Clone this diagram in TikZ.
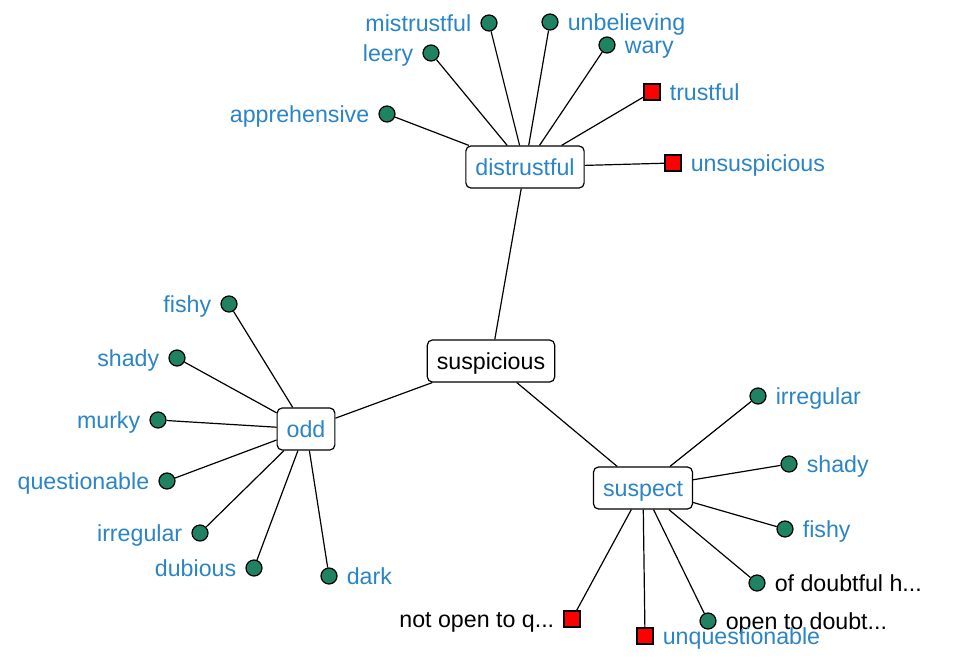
\documentclass[tikz,border=0pt]{standalone}
\usepackage{fontspec}
\setmainfont{Liberation Sans}
\definecolor{lblue}{HTML}{2A84C6}
\definecolor{lgreen}{HTML}{1F8262}
\begin{document}
\begin{tikzpicture}[x=1pt,y=-1pt,
 every node/.style={font=\fontsize{23.2}{27}\selectfont},
 hub/.style={draw, rounded corners=5pt, line width=1.2pt, fill=white, inner xsep=9.5pt, inner ysep=0pt, minimum height=42pt, text height=16pt, text depth=0pt},
 leaf/.style={circle, draw, fill=lgreen, line width=1.2pt, minimum size=16pt, inner sep=0pt},
 neg/.style={rectangle, draw, fill=red, line width=1.2pt, minimum size=16pt, inner sep=0pt},
 lt/.style={inner sep=0pt, text height=16pt, text depth=0pt, text=#1, label distance=9pt},
 conn/.style={line width=1.2pt}
]
\useasboundingbox (0,0) rectangle (954,665);

% hubs
\node[hub] (susp) at (491,361) {suspicious};
\node[hub, text=lblue] (dist) at (525,167) {distrustful};
\node[hub, text=lblue] (odd) at (306,429) {odd};
\node[hub, text=lblue] (spct) at (643,488) {suspect};

% distrustful leaves
\node[leaf, label={[lt=lblue]left:mistrustful}] (d1) at (489,23) {};
\node[leaf, label={[lt=lblue]right:unbelieving}] (d2) at (550,22) {};
\node[leaf, label={[lt=lblue]left:leery}] (d3) at (431,53) {};
\node[leaf, label={[lt=lblue]right:wary}] (d4) at (607,45) {};
\node[leaf, label={[lt=lblue]left:apprehensive}] (d5) at (387,114) {};
\node[neg, label={[lt=lblue]right:trustful}] (d6) at (652,92) {};
\node[neg, label={[lt=lblue]right:unsuspicious}] (d7) at (673,163) {};

% odd leaves
\node[leaf, label={[lt=lblue]left:fishy}] (o1) at (229,304) {};
\node[leaf, label={[lt=lblue]left:shady}] (o2) at (177,358) {};
\node[leaf, label={[lt=lblue]left:murky}] (o3) at (158,420) {};
\node[leaf, label={[lt=lblue]left:questionable}] (o4) at (167,481) {};
\node[leaf, label={[lt=lblue]left:irregular}] (o5) at (200,533) {};
\node[leaf, label={[lt=lblue]left:dubious}] (o6) at (254,568) {};
\node[leaf, label={[lt=lblue]right:dark}] (o7) at (329,576) {};

% suspect leaves
\node[leaf, label={[lt=lblue]right:irregular}] (s1) at (758,396) {};
\node[leaf, label={[lt=lblue]right:shady}] (s2) at (789,464) {};
\node[leaf, label={[lt=lblue]right:fishy}] (s3) at (785,529) {};
\node[leaf, label={[lt=black]right:of doubtful h...}] (s4) at (757,583) {};
\node[leaf, label={[lt=black]right:open to doubt...}] (s5) at (708,621) {};
\node[neg, label={[lt=lblue]right:unquestionable}] (s6) at (645,636) {};
\node[neg, label={[lt=black]left:not open to q...}] (s7) at (572,619) {};

% connectors
\draw[conn] (susp) -- (dist);
\draw[conn] (susp) -- (odd);
\draw[conn] (susp) -- (spct);
\foreach \n in {d1,d2,d3,d4,d5,d6,d7} \draw[conn] (dist) -- (\n);
\foreach \n in {o1,o2,o3,o4,o5,o6,o7} \draw[conn] (odd) -- (\n);
\foreach \n in {s1,s2,s3,s4,s5,s6,s7} \draw[conn] (spct) -- (\n);
\end{tikzpicture}
\end{document}
